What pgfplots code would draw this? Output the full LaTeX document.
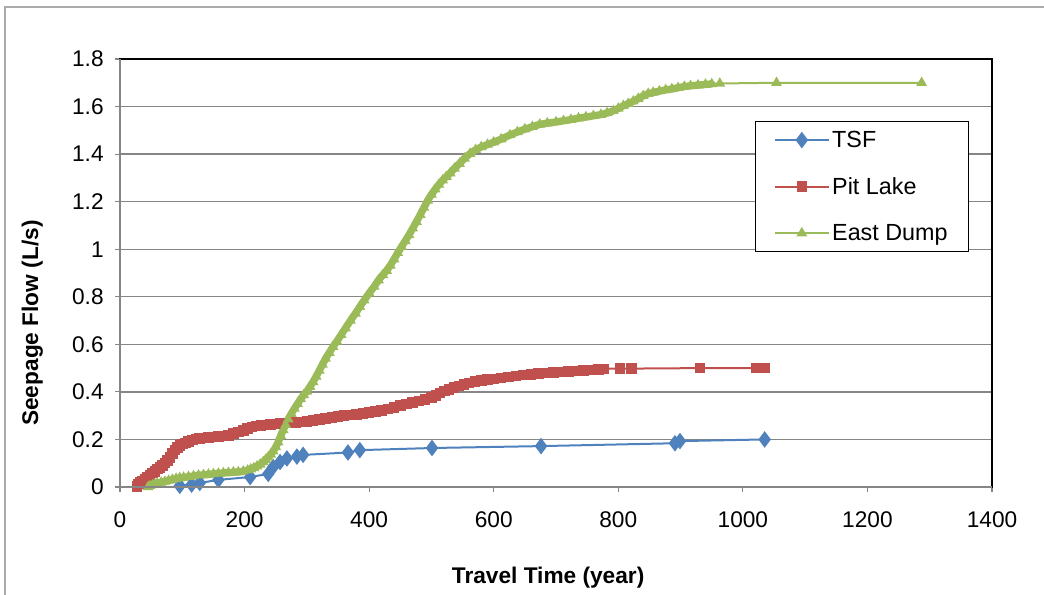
\documentclass[border=0pt]{standalone}
\usepackage{pgfplots}
\pgfplotsset{compat=1.18}
\usepackage{pgfplotstable}
\usepackage{fontspec}
\setmainfont{Liberation Sans}
\definecolor{tsf}{HTML}{4F81BD}
\definecolor{pit}{HTML}{C0504D}
\definecolor{east}{HTML}{9BBB59}
\definecolor{gridgray}{RGB}{134,134,134}
\definecolor{framegray}{RGB}{170,170,170}
\pgfplotstableread{
x y
96 0.005
115 0.010
128 0.017
158 0.030
209 0.042
238 0.055
246 0.084
257 0.105
268 0.120
284 0.128
294 0.135
366 0.145
385 0.155
501 0.164
676 0.172
891 0.184
899 0.193
1035 0.200
}\tsfdata
\pgfplotstableread{
x y
27 0.003
30 0.012
33 0.018
36 0.024
40 0.032
44 0.040
48 0.050
52 0.058
56 0.066
60 0.075
64 0.083
68 0.090
72 0.100
76 0.112
80 0.125
84 0.140
88 0.155
92 0.166
96 0.174
100 0.180
105 0.186
110 0.191
116 0.198
122 0.201
128 0.204
135 0.206
142 0.208
150 0.210
158 0.212
166 0.214
174 0.217
182 0.224
190 0.231
198 0.238
205 0.245
212 0.252
219 0.256
226 0.259
234 0.261
242 0.263
250 0.265
258 0.267
266 0.269
274 0.270
282 0.272
290 0.274
300 0.276
310 0.279
320 0.283
330 0.287
340 0.292
350 0.296
360 0.300
370 0.303
380 0.306
390 0.309
400 0.313
410 0.317
420 0.322
430 0.328
440 0.335
450 0.342
460 0.350
470 0.356
480 0.362
490 0.368
500 0.376
507 0.385
514 0.395
521 0.404
528 0.411
536 0.418
544 0.424
552 0.431
560 0.437
570 0.443
580 0.448
590 0.452
600 0.455
612 0.459
624 0.463
636 0.467
648 0.471
660 0.474
672 0.477
684 0.479
696 0.481
708 0.483
720 0.486
732 0.488
744 0.491
756 0.493
768 0.495
776 0.497
803 0.498
821 0.498
931 0.500
1022 0.500
1035 0.501
}\pitdata
\pgfplotstableread{
x y
45 0.000
48 0.004
52 0.008
56 0.012
60 0.015
66 0.019
72 0.023
78 0.027
84 0.031
90 0.035
96 0.038
102 0.040
110 0.043
118 0.046
126 0.049
134 0.051
142 0.053
150 0.055
158 0.057
166 0.059
174 0.060
182 0.062
190 0.063
198 0.066
205 0.070
210 0.075
215 0.080
220 0.087
225 0.095
230 0.105
234 0.115
238 0.125
242 0.137
246 0.150
250 0.168
254 0.188
258 0.215
262 0.240
266 0.262
270 0.285
275 0.308
280 0.330
285 0.350
290 0.370
295 0.387
300 0.402
305 0.422
310 0.442
315 0.465
320 0.490
325 0.515
330 0.540
336 0.565
342 0.590
348 0.612
355 0.640
362 0.668
370 0.700
378 0.730
385 0.758
392 0.785
400 0.815
408 0.843
415 0.870
422 0.892
428 0.910
434 0.932
440 0.958
446 0.985
452 1.010
458 1.035
464 1.060
470 1.088
476 1.116
482 1.145
488 1.175
494 1.205
500 1.230
506 1.252
512 1.272
518 1.290
524 1.305
530 1.320
537 1.340
545 1.360
553 1.382
562 1.402
571 1.418
580 1.430
590 1.440
600 1.450
612 1.463
626 1.480
638 1.493
650 1.505
662 1.515
674 1.525
686 1.530
700 1.535
712 1.540
724 1.545
736 1.551
748 1.556
760 1.561
772 1.566
782 1.573
792 1.582
800 1.592
808 1.603
816 1.612
824 1.622
832 1.633
840 1.645
848 1.654
856 1.659
866 1.665
876 1.670
886 1.674
896 1.679
906 1.684
916 1.687
928 1.690
940 1.693
950 1.695
963 1.697
1054 1.700
1287 1.700
}\eastdata
\begin{document}
\begin{tikzpicture}
\useasboundingbox (-90pt,-81pt) rectangle (693pt,365.25pt);
\draw[framegray, line width=2pt] (-86.25pt,-90pt) -- (-86.25pt,360pt) -- (700pt,360pt);
\begin{axis}[
  at={(0pt,0pt)}, anchor=south west,
  scale only axis, width=654pt, height=321pt,
  xmin=0, xmax=1400, ymin=0, ymax=1.8,
  xtick={0,200,...,1400}, ytick={0,0.2,...,1.8},
  yticklabels={0,0.2,0.4,0.6,0.8,1,1.2,1.4,1.6,1.8},
  scaled ticks=false,
  /pgf/number format/1000 sep={},
  /pgf/number format/assume math mode=true,
  tick label style={font=\fontsize{17}{20}\selectfont},
  xticklabel style={yshift=-11pt},
  yticklabel style={xshift=-5pt},
  xtick pos=bottom, ytick pos=left,
  tick align=outside, major tick length=3.75pt,
  tick style={gridgray, line width=0.9pt},
  ymajorgrids, grid style={gridgray, line width=1pt},
  axis line style={black, line width=0.8pt},
  xlabel={\bfseries Travel Time (year)},
  ylabel={\bfseries Seepage Flow (L/s)},
  label style={font=\fontsize{17}{20}\selectfont},
  xlabel style={at={(axis description cs:0.491,-0.2126)}, anchor=center},
  ylabel style={at={(axis description cs:-0.1005,0.383)}, anchor=center},
  clip mode=individual,
  legend style={at={(axis description cs:0.7282,0.855)}, anchor=north west,
    draw=black, line width=0.8pt, font=\fontsize{17.5}{20}\selectfont,
    row sep=17pt, inner xsep=14pt, inner ysep=5pt},
  legend cell align=left,
  legend image code/.code={\draw[mark repeat=2, mark phase=2] plot coordinates {(0pt,0pt) (20pt,0pt) (40pt,0pt)};},
]
% dense bands (overlapping markers in the original)
\addplot[pit, line width=7pt, line join=round, line cap=round, forget plot, restrict x to domain=27:780] table {\pitdata};
\addplot[east, line width=5.5pt, line join=round, line cap=round, forget plot, restrict x to domain=45:950] table {\eastdata};
\addplot[tsf, line width=1.5pt, mark=diamond*, mark size=5pt, mark options={solid}] table {\tsfdata};
\addlegendentry{TSF}
\addplot[pit, line width=1.5pt, mark=square*, mark size=3.2pt] table {\pitdata};
\addlegendentry{Pit Lake}
\addplot[east, line width=1.5pt, mark=triangle*, mark size=3.2pt] table {\eastdata};
\addlegendentry{East Dump}
\draw[gridgray, line width=1.2pt] (rel axis cs:0,1) -- (rel axis cs:0,0) -- (rel axis cs:1,0);
\end{axis}
\end{tikzpicture}
\end{document}
